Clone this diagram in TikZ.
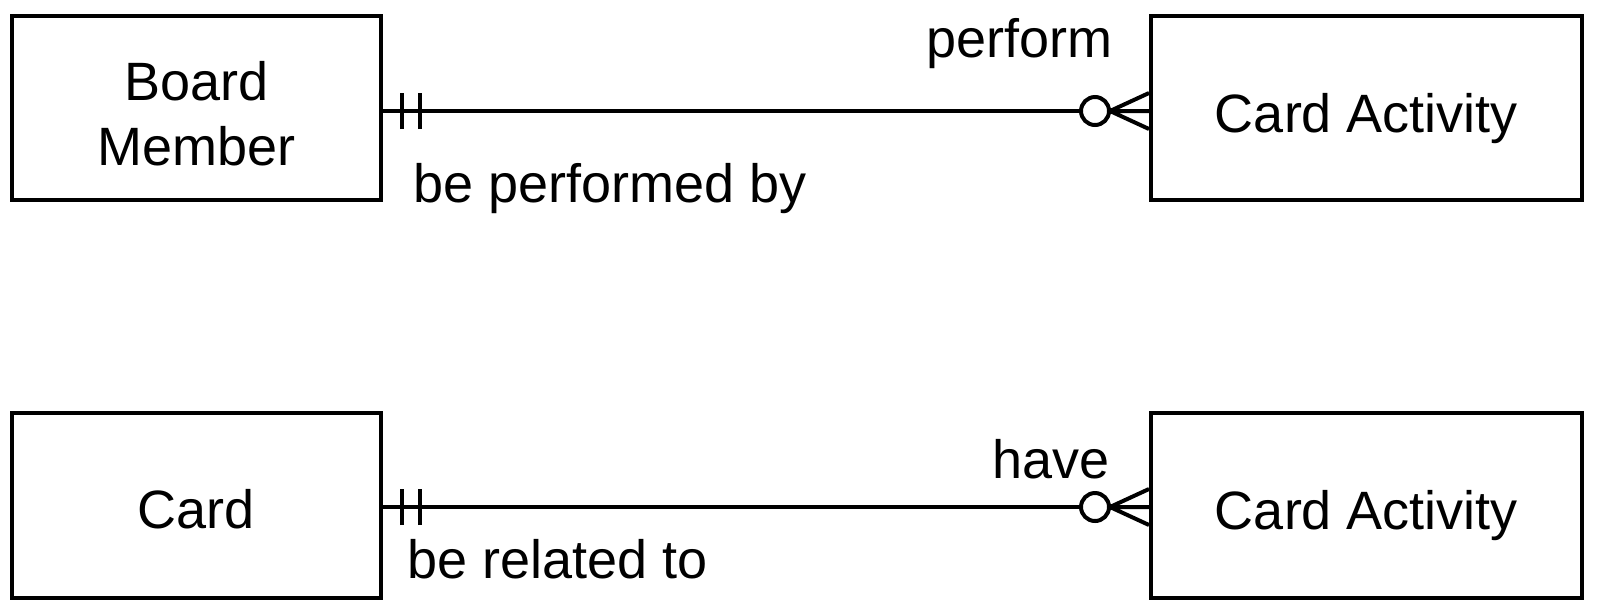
\documentclass[tikz,border=0pt]{standalone}
\usepackage{fontspec}
\setmainfont{Liberation Sans}
\newcommand\erfont{\fontsize{27pt}{32.5pt}\selectfont}
\tikzset{
  entity/.style={draw, line width=2pt, minimum width=#1, minimum height=92pt, inner sep=0pt, align=center, font=\erfont},
  lbl/.style={inner sep=0pt, font=\erfont},
  rel/.style={line width=2pt},
  onebar/.pic={\draw[rel] (9.5pt,-9pt) -- (9.5pt,9pt) (18.5pt,-9pt) -- (18.5pt,9pt);},
  zeromany/.pic={\draw[rel] (0,9pt) -- (-19.5pt,0) -- (0,-9pt) (-19.5pt,0) -- (0,0);
                 \draw[rel, fill=white] (-27pt,0) circle (7pt);}
}
\begin{document}
\begin{tikzpicture}[x=0.5pt,y=-0.5pt]
\useasboundingbox (0,0) rectangle (1598,612);
\node[entity=184.5pt, text height=57pt, text depth=0pt] (bm) at (196.5,108) {Board\\Member};
\node[entity=215.5pt, text height=24pt, text depth=0pt] (ca1) at (1366.5,108) {Card Activity};
\node[entity=184.5pt, minimum height=92.5pt, text height=22.5pt, text depth=0pt] (cd) at (196.5,505.5) {Card};
\node[entity=215.5pt, minimum height=92.5pt, text height=24pt, text depth=0pt] (ca2) at (1366.5,505.5) {Card Activity};

\coordinate (a1) at ([yshift=-1.5pt]bm.east);
\coordinate (b1) at (a1 -| ca1.west);
\draw[rel] (a1) -- (b1);
\pic at (a1) {onebar};
\pic at (b1) {zeromany};

\coordinate (a2) at ([yshift=-0.75pt]cd.east);
\coordinate (b2) at (a2 -| ca2.west);
\draw[rel] (a2) -- (b2);
\pic at (a2) {onebar};
\pic at (b2) {zeromany};

\node[lbl, anchor=base east] (l1) at (1113,57) {perform};
\node[lbl, anchor=base west] (l2) at (413,202) {be performed by};
\node[lbl, anchor=base east] (l3) at (1110,478) {have};
\node[lbl, anchor=base west] (l4) at (407,578) {be related to};
\end{tikzpicture}
\end{document}
